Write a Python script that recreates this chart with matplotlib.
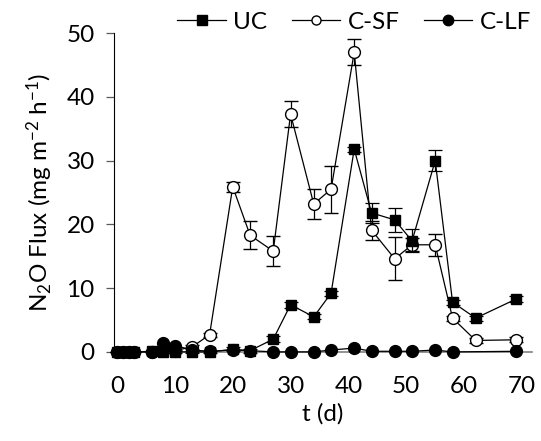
import numpy as np
import matplotlib.pyplot as plt
from matplotlib.lines import Line2D

plt.rcParams['font.family'] = ['Lato', 'DejaVu Sans']

# sampling days
days = [0, 1, 2, 3, 6, 8, 10, 13, 16, 20, 23, 27, 30, 34, 37, 41, 44, 48, 51, 55, 58, 62, 69]

uc = [0, 0, 0, 0, 0.1, 0, 0, 0, 0, 0.4, 0.2, 2.0, 7.4, 5.5, 9.2, 31.8, 21.8, 20.7, 17.4, 30.0, 7.8, 5.3, 8.3]
uc_err = [0, 0, 0, 0, 0.1, 0.1, 0.1, 0.1, 0.1, 0.3, 0.3, 0.5, 0.5, 0.4, 0.4, 0.4, 1.6, 1.9, 1.8, 1.6, 0.4, 0.4, 0.4]

csf = [0, 0, 0, 0, 0, 0.3, 0.2, 0.8, 2.7, 25.9, 18.3, 15.8, 37.3, 23.2, 25.5, 47.0, 19.1, 14.6, 16.8, 16.8, 5.3, 1.8, 1.9]
csf_err = [0, 0, 0, 0, 0, 0.1, 0.1, 0.3, 0.3, 0.8, 2.2, 2.3, 2.0, 2.4, 3.7, 2.0, 1.5, 3.4, 1.0, 1.75, 0.4, 0.4, 0.4]

clf_days = [0, 1, 2, 3, 6, 8, 10, 13, 16, 20, 23, 27, 30, 34, 37, 41, 44, 48, 51, 55, 58, 69]
clf = [0, 0, 0, 0, 0, 1.4, 1.0, 0.3, 0.1, 0.3, 0.2, 0, 0, 0, 0.3, 0.6, 0.1, 0.1, 0.1, 0.3, 0, 0.1]

fs = 17.5

fig = plt.figure(figsize=(5.41, 4.41), dpi=100)
ax = fig.add_axes([0.211, 0.202, 0.772, 0.723])

common = dict(color='black', lw=0.9, capsize=5, elinewidth=0.9, capthick=0.9, clip_on=False)

ax.errorbar(days, csf, yerr=csf_err, marker='o', ms=8.5, mfc='white', mec='black', mew=1.0,
            zorder=2, **common)
ax.errorbar(days, uc, yerr=uc_err, marker='s', ms=7.5, mfc='black', mec='black',
            zorder=3, **common)
ax.plot(clf_days, clf, color='black', lw=0.9, marker='o', ms=8.5, mfc='black', mec='black',
        zorder=4, clip_on=False)

ax.set_xlim(-0.5, 71.7)
ax.set_ylim(0, 50)
ax.set_xticks(np.arange(0, 71, 10))
ax.set_yticks(np.arange(0, 51, 10))
ax.tick_params(axis='x', length=0, labelsize=fs, pad=17)
ax.tick_params(axis='y', length=6, width=0.9, color='#595959', labelsize=fs, pad=8)

for s in ['top', 'right']:
    ax.spines[s].set_visible(False)
ax.spines['left'].set_color('black')
ax.spines['bottom'].set_color('#808080')
ax.spines['bottom'].set_linewidth(1.2)

ax.set_xlabel('t (d)', fontsize=fs, labelpad=5)
ax.set_ylabel(r'N$\mathregular{_2}$O Flux (mg m$\mathregular{^{-2}}$ h$\mathregular{^{-1}}$)', fontsize=fs, labelpad=8)

handles = [
    Line2D([], [], color='black', lw=0.9, marker='s', ms=7.5, mfc='black', mec='black'),
    Line2D([], [], color='black', lw=0.9, marker='o', ms=6.5, mfc='white', mec='black'),
    Line2D([], [], color='black', lw=0.9, marker='o', ms=7.5, mfc='black', mec='black'),
]
ax.legend(handles, ['UC', 'C-SF', 'C-LF'], loc='upper center',
          bbox_to_anchor=(0.575, 1.135), ncol=3, frameon=False, fontsize=fs,
          handlelength=2.0, handletextpad=0.3, columnspacing=1.0)

fig.savefig('out.png', dpi=100)
